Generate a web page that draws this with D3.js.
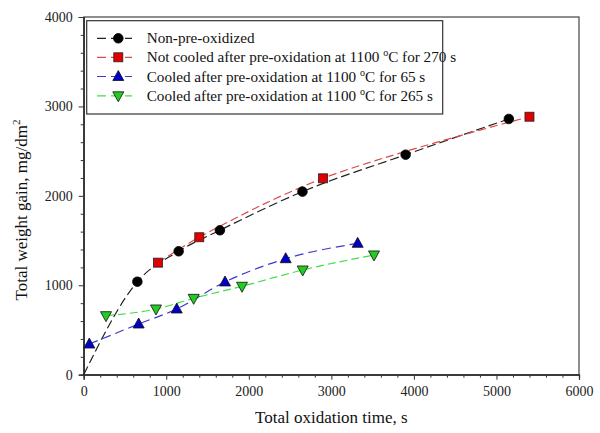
<!DOCTYPE html>
<html><head><meta charset="utf-8">
<script src="https://cdn.jsdelivr.net/npm/d3@7"></script>
<style>body{margin:0;background:#fff}svg{display:block}</style>
</head><body>
<svg id="c" width="600" height="433"></svg>
<script>
// ---- data ----
const xTicks = [0, 1000, 2000, 3000, 4000, 5000, 6000];
const yTicks = [0, 1000, 2000, 3000, 4000];
const origin = [0, 0];
const nonPreX = [650, 1150, 1650, 2650, 3900, 5150];
const nonPreY = [1040, 1380, 1615, 2047, 2460, 2860];
const notCooledX = [900, 1400, 2900, 5400];
const notCooledY = [1253, 1537, 2196, 2885];
const cooled65X = [68, 666, 1127, 1712, 2447, 3319];
const cooled65Y = [343, 567, 735, 1037, 1297, 1469];
const cooled265X = [270, 876, 1332, 1918, 2653, 3517];
const cooled265Y = [660, 735, 854, 989, 1171, 1339];
const legendLabels = [
  ["Non-pre-oxidized"],
  ["Not cooled after pre-oxidation at 1100 ", "o", "C for 270 s"],
  ["Cooled after pre-oxidation at 1100 ", "o", "C for 65 s"],
  ["Cooled after pre-oxidation at 1100 ", "o", "C for 265 s"]
];

const svg = d3.select("#c");
const L = 83.7, T = 17, R = 579, B = 374.7;
const x = d3.scaleLinear().domain([0, 6000]).range([L, R]);
const y = d3.scaleLinear().domain([0, 4000]).range([B, T]);
const font = "Liberation Serif, Times New Roman, serif";
const axisCol = "#333";

// frame
svg.append("rect").attr("x", L).attr("y", T).attr("width", R - L).attr("height", B - T)
  .attr("fill", "none").attr("stroke", "#444").attr("stroke-width", 1.2);

// minor ticks
const xMinor = d3.range(0, 6001, 200).filter(v => v % 1000 !== 0);
const yMinor = d3.range(0, 4001, 200).filter(v => v % 1000 !== 0);
const gx = svg.append("g").attr("transform", `translate(0,${B})`);
gx.call(d3.axisBottom(x).tickValues(xMinor).tickSize(3).tickFormat(""));
const gx2 = svg.append("g").attr("transform", `translate(0,${B})`);
gx2.call(d3.axisBottom(x).tickValues(xTicks).tickSize(5).tickPadding(6).tickFormat(d3.format("d")));
const gy = svg.append("g").attr("transform", `translate(${L},0)`);
gy.call(d3.axisLeft(y).tickValues(yMinor).tickSize(3).tickFormat(""));
const gy2 = svg.append("g").attr("transform", `translate(${L},0)`);
gy2.call(d3.axisLeft(y).tickValues(yTicks).tickSize(5).tickPadding(6).tickFormat(d3.format("d")));
svg.selectAll("g").attr("font-family", font);
svg.selectAll(".domain").attr("stroke", axisCol).attr("stroke-width", 1.2);
svg.selectAll(".tick line").attr("stroke", axisCol);
svg.selectAll(".tick text").attr("font-family", font).attr("font-size", 14).attr("fill", "#222");

// axis titles
svg.append("text").attr("x", (L + R) / 2).attr("y", 423).attr("text-anchor", "middle")
  .attr("font-family", font).attr("font-size", 17).attr("fill", "#111").text("Total oxidation time, s");
const yl = svg.append("text").attr("transform", `translate(27,210) rotate(-90)`)
  .attr("text-anchor", "middle").attr("font-family", font).attr("font-size", 17).attr("fill", "#111");
yl.append("tspan").text("Total weight gain, mg/dm");
yl.append("tspan").attr("font-size", 11).attr("dy", -7).text("2");

// series
const series = [
  {xs: nonPreX, ys: nonPreY, line: [origin].concat(nonPreX.map((v, i) => [v, nonPreY[i]])), lc: "#222", fill: "#000", m: "circle", dash: "9,4", curve: d3.curveMonotoneX},
  {xs: notCooledX, ys: notCooledY, line: notCooledX.map((v, i) => [v, notCooledY[i]]), lc: "#e04848", fill: "#e00000", m: "square", dash: "8,4", curve: d3.curveCatmullRom.alpha(0.5)},
  {xs: cooled65X, ys: cooled65Y, line: cooled65X.map((v, i) => [v, cooled65Y[i]]), lc: "#3a3ad0", fill: "#0000c8", m: "triangle", dash: "9,5", curve: d3.curveMonotoneX},
  {xs: cooled265X, ys: cooled265Y, line: cooled265X.map((v, i) => [v, cooled265Y[i]]), lc: "#44dd44", fill: "#22cc22", m: "triangleDown", dash: "8,4", curve: d3.curveMonotoneX}
];

function marker(g, type, cx, cy, fill) {
  if (type === "circle") {
    g.append("circle").attr("cx", cx).attr("cy", cy).attr("r", 4.8).attr("fill", fill).attr("stroke", "#000").attr("stroke-width", 0.8);
  } else if (type === "square") {
    g.append("rect").attr("x", cx - 4.5).attr("y", cy - 4.5).attr("width", 9).attr("height", 9).attr("fill", fill).attr("stroke", "#222").attr("stroke-width", 0.8);
  } else if (type === "triangle") {
    g.append("path").attr("d", `M${cx},${cy - 6}L${cx + 5.5},${cy + 4}L${cx - 5.5},${cy + 4}Z`).attr("fill", fill).attr("stroke", "#111").attr("stroke-width", 0.8);
  } else {
    g.append("path").attr("d", `M${cx},${cy + 6}L${cx + 5.5},${cy - 4}L${cx - 5.5},${cy - 4}Z`).attr("fill", fill).attr("stroke", "#111").attr("stroke-width", 0.8);
  }
}

series.forEach(s => {
  const line = d3.line().x(d => x(d[0])).y(d => y(d[1])).curve(s.curve);
  svg.append("path").attr("d", line(s.line)).attr("fill", "none").attr("stroke", s.lc)
    .attr("stroke-width", 1.2).attr("stroke-dasharray", s.dash);
});
series.forEach(s => {
  const g = svg.append("g");
  s.xs.forEach((v, i) => marker(g, s.m, x(v), y(s.ys[i]), s.fill));
});

// legend
const lg = svg.append("g");
lg.append("rect").attr("x", 86.7).attr("y", 20.7).attr("width", 356).attr("height", 93.3)
  .attr("fill", "#fff").attr("stroke", "#333").attr("stroke-width", 1.2);
const rowY = [38.3, 57.3, 76.5, 95.8];
series.forEach((s, i) => {
  lg.append("line").attr("x1", 97).attr("x2", 132).attr("y1", rowY[i]).attr("y2", rowY[i])
    .attr("stroke", s.lc).attr("stroke-width", 1.2).attr("stroke-dasharray", "9,5");
  marker(lg, s.m, 118.3, rowY[i], s.fill);
  const t = lg.append("text").attr("x", 146.7).attr("y", rowY[i] + 5)
    .attr("font-family", font).attr("font-size", 15.2).attr("fill", "#111");
  const parts = legendLabels[i];
  t.append("tspan").text(parts[0]);
  if (parts.length > 1) {
    t.append("tspan").attr("font-size", 10).attr("dy", -6).text(parts[1]);
    t.append("tspan").attr("dy", 6).text(parts[2]);
  }
});
</script>
</body></html>
